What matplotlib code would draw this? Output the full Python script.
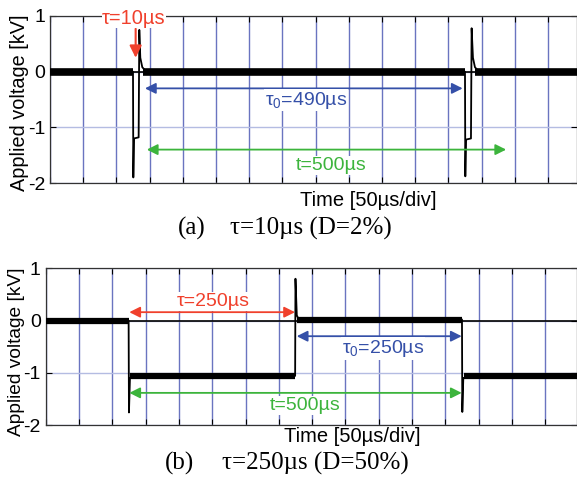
import matplotlib
matplotlib.use("Agg")
import matplotlib.pyplot as plt

plt.rcParams['font.family'] = ['Liberation Sans', 'DejaVu Sans']
plt.rcParams['mathtext.fontset'] = 'custom'
plt.rcParams['mathtext.rm'] = 'Liberation Sans'
plt.rcParams['mathtext.it'] = 'Liberation Sans:italic'

# --- data (time in us, voltage in kV) ---
# (a) tau = 10 us
trace_a_t = [0, 125, 125.5, 126.5, 133.5, 134.5, 136, 139, 145,
             625, 625.5, 626.5, 634, 635, 637, 640, 646, 794]
trace_a_v = [0, 0, -1.9, -1.2, -1.18, 0.75, 0.25, 0.08, 0,
             0, -1.88, -1.22, -1.2, 0.78, 0.25, 0.08, 0, 0]
# noisy flat parts: start, end, level
band_a_start = [0, 140, 640]
band_a_end = [125, 625, 794]
band_a_level = [0, 0, 0]

# (b) tau = 250 us
trace_b_t = [0, 124.5, 125, 126.5, 374.5, 375, 377, 380, 625, 625.5, 627, 798]
trace_b_v = [0, 0, -1.76, -1.1, -1.06, 0.8, 0.1, 0.02, 0.02, -1.75, -1.1, -1.06]
band_b_start = [0, 127, 378, 628]
band_b_end = [124.5, 374.5, 625, 798]
band_b_level = [0, -1.06, 0.01, -1.06]

yticks = [1, 0, -1, -2]

RED = '#f0402c'
BLUE = '#3550a8'
GREEN = '#3cb43c'
GRIDV = '#6a74c0'
GRIDH = '#b4bce2'
SERIF = ['Liberation Serif', 'DejaVu Serif']

W, H = 577, 480
fig = plt.figure(figsize=(W / 100, H / 100), dpi=100)


def setup(ax, xmax):
    ax.set_xlim(0, xmax)
    ax.set_ylim(-2, 1)
    ax.set_xticks(range(0, 800, 50))
    ax.set_xticklabels([])
    ax.set_yticks(yticks)
    ax.set_yticklabels([str(v) for v in yticks], fontsize=14)
    ax.tick_params(direction='in', top=True, right=True, length=4, width=0.8,
                   pad=3.5)
    ax.grid(axis='x', color=GRIDV, lw=1.0)
    ax.grid(axis='y', color=GRIDH, lw=1.0)
    ax.set_axisbelow(True)
    for s in ax.spines.values():
        s.set_color('#333333')
        s.set_linewidth(0.9)
    ax.axhline(0, color='black', lw=1.2, zorder=2)


def draw_trace(ax, t, v, bs, be, bl, lw_band):
    ax.plot(t, v, color='black', lw=1.3, zorder=3)
    for s, e, l in zip(bs, be, bl):
        ax.plot([s, e], [l, l], color='black', lw=lw_band,
                solid_capstyle='butt', zorder=3)


def arrow(ax, x0, x1, y, color, style='<|-|>'):
    ax.annotate('', xy=(x1, y), xytext=(x0, y),
                arrowprops=dict(arrowstyle=style, color=color, lw=1.3,
                                mutation_scale=16, shrinkA=0, shrinkB=0),
                zorder=4)


def label(ax, x, y, s, color):
    ax.text(x, y, s, color=color, fontsize=14, ha='center', va='center',
            zorder=5, bbox=dict(facecolor='white', edgecolor='none', pad=0.5))


def caption(xc, xt, y, tag, s):
    fig.text(xc / W, 1 - y / H, tag, fontsize=18, family=SERIF,
             ha='center', va='center')
    fig.text(xt / W, 1 - y / H, s, fontsize=18, family=SERIF,
             ha='left', va='center')


# ---------------- (a) ----------------
ax1 = fig.add_axes([50 / W, (H - 183) / H, 527 / W, 167 / H])
setup(ax1, 793.7)
draw_trace(ax1, trace_a_t, trace_a_v, band_a_start, band_a_end, band_a_level, 5.5)
ax1.annotate('', xy=(129, 0.25), xytext=(129, 0.77),
             arrowprops=dict(arrowstyle='-|>', color=RED, lw=1.5,
                             mutation_scale=18, shrinkA=0, shrinkB=0),
             zorder=4)
ax1.text(126.5, 0.96, 'τ=10µs', color=RED, fontsize=14.5, ha='center',
         va='center', zorder=5, clip_on=False,
         bbox=dict(facecolor='white', edgecolor='none', pad=0.5))
arrow(ax1, 143, 621.5, -0.30, BLUE)
label(ax1, 385.5, -0.51, r'$\mathrm{\tau}_0$=490µs', BLUE)
arrow(ax1, 145.8, 687, -1.40, GREEN)
label(ax1, 423, -1.69, 't=500µs', GREEN)
fig.text(19.5 / W, 1 - 103 / H, 'Applied voltage [kV]', rotation=90,
         fontsize=14.3, ha='center', va='center')
fig.text(368 / W, 1 - 201 / H, 'Time [50µs/div]', fontsize=14.5,
         ha='center', va='center')
caption(192, 230, 228, '(a)', 'τ=10µs (D=2%)')

# ---------------- (b) ----------------
ax2 = fig.add_axes([45.7 / W, 55 / H, 531.3 / W, 156.7 / H])
setup(ax2, 797.7)
draw_trace(ax2, trace_b_t, trace_b_v, band_b_start, band_b_end, band_b_level, 4.5)
arrow(ax2, 125.5, 374.3, 0.16, RED)
label(ax2, 251, 0.36, 'τ=250µs', RED)
arrow(ax2, 376.9, 624.6, -0.30, BLUE)
label(ax2, 506.5, -0.54, r'$\mathrm{\tau}_0$=250µs', BLUE)
arrow(ax2, 125.5, 624.6, -1.385, GREEN)
label(ax2, 389, -1.63, 't=500µs', GREEN)
fig.text(16.5 / W, 1 - 352 / H, 'Applied voltage [kV]', rotation=90,
         fontsize=13.8, ha='center', va='center')
fig.text(352 / W, 1 - 437 / H, 'Time [50µs/div]', fontsize=14.5,
         ha='center', va='center')
caption(180, 222, 463, '(b)', 'τ=250µs (D=50%)')

fig.savefig('out.png', dpi=100)
